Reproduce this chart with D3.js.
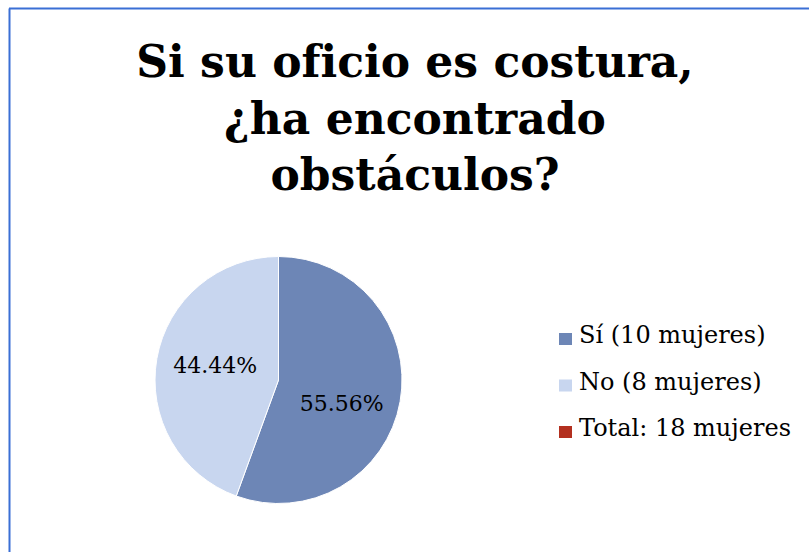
<!DOCTYPE html>
<html lang="es">
<head>
<meta charset="utf-8">
<script src="https://d3js.org/d3.v7.min.js"></script>
<style>
  body { margin: 0; background: #fff; }
</style>
</head>
<body>
<div id="chart"></div>
<script>
// data
const categories = ["Sí (10 mujeres)", "No (8 mujeres)", "Total: 18 mujeres"];
const values = [10, 8, 0];
const colors = ["#6d86b6", "#c8d6ef", "#b3301f"];
const titleLines = ["Si su oficio es costura,", "¿ha encontrado", "obstáculos?"];

const W = 809, H = 552;
const serif = "'DejaVu Serif', 'Liberation Serif', serif";

const svg = d3.select("#chart").append("svg")
  .attr("width", W).attr("height", H);

// frame lines (left and top)
svg.append("line").attr("x1", 9.5).attr("y1", 8.5).attr("x2", 9.5).attr("y2", H)
  .attr("stroke", "#3a6fd5").attr("stroke-width", 2);
svg.append("line").attr("x1", 9).attr("y1", 8.5).attr("x2", W).attr("y2", 8.5)
  .attr("stroke", "#3a6fd5").attr("stroke-width", 2);

// title
svg.append("g").selectAll("text")
  .data(titleLines).enter().append("text")
  .attr("x", 415)
  .attr("y", (d, i) => 77 + i * 56.7)
  .attr("text-anchor", "middle")
  .attr("font-family", serif)
  .attr("font-weight", "bold")
  .attr("font-size", "44px")
  .attr("fill", "#000")
  .text(d => d);

// pie
const cx = 278.5, cy = 380, r = 123.5;
const total = d3.sum(values);
const pie = d3.pie().sort(null).value(d => d.v);
const arcs = pie(values.map((v, i) => ({ v: v, c: colors[i] })).filter(d => d.v > 0));
const arc = d3.arc().innerRadius(0).outerRadius(r);

const g = svg.append("g").attr("transform", "translate(" + cx + "," + cy + ")");
g.selectAll("path").data(arcs).enter().append("path")
  .attr("d", arc)
  .attr("fill", d => d.data.c)
  .attr("stroke", "#fff")
  .attr("stroke-width", 1);

const labelArc = d3.arc().innerRadius(r * 0.52).outerRadius(r * 0.52);
g.selectAll("text").data(arcs).enter().append("text")
  .attr("transform", d => "translate(" + labelArc.centroid(d) + ")")
  .attr("text-anchor", "middle")
  .attr("dy", (d, i) => i === 0 ? "0.9em" : "0.2em")
  .attr("font-family", serif)
  .attr("font-size", "22px")
  .attr("fill", "#000")
  .text(d => (d.data.v / total * 100).toFixed(2) + "%");

// legend
const leg = svg.append("g").attr("transform", "translate(559,343)");
const rows = leg.selectAll("g").data(categories).enter().append("g")
  .attr("transform", (d, i) => "translate(0," + i * 46.5 + ")");
rows.append("rect").attr("x", 0).attr("y", -10).attr("width", 13).attr("height", 12)
  .attr("fill", (d, i) => colors[i]);
rows.append("text").attr("x", 20)
  .attr("font-family", serif)
  .attr("font-size", "24px")
  .attr("fill", "#000")
  .text(d => d);
</script>
</body>
</html>
